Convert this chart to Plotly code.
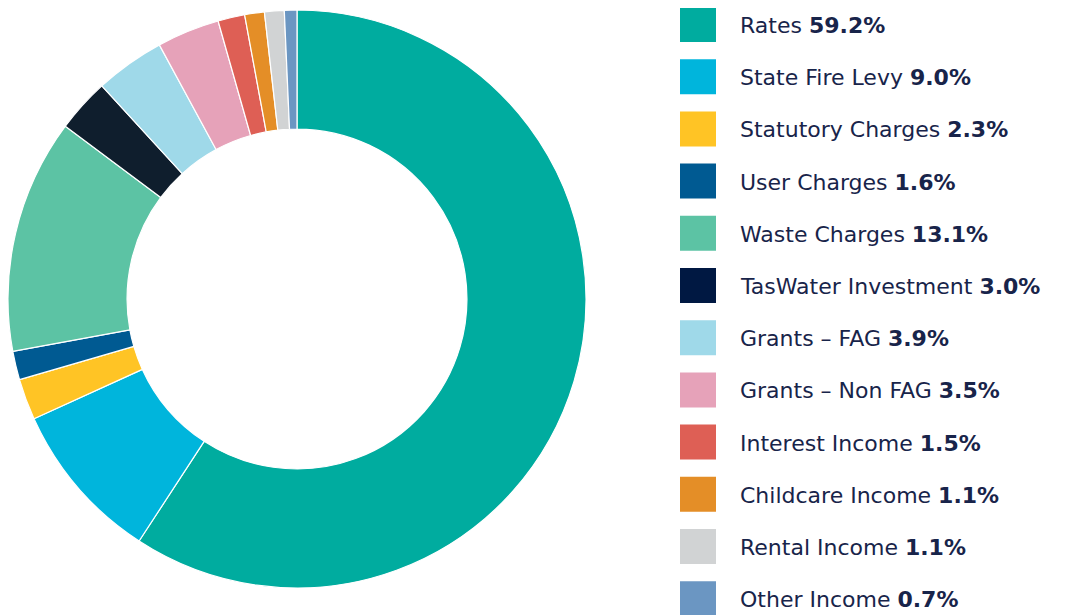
import plotly.graph_objects as go

# ---- data ----
categories = ["Rates", "State Fire Levy", "Statutory Charges", "User Charges",
              "Waste Charges", "TasWater Investment", "Grants \u2013 FAG",
              "Grants \u2013 Non FAG", "Interest Income", "Childcare Income",
              "Rental Income", "Other Income"]
shares = [59.2, 9.0, 2.3, 1.6, 13.1, 3.0, 3.9, 3.5, 1.5, 1.1, 1.1, 0.7]

# ---- style ----
slice_colors = ["#00ac9f", "#00b5dc", "#ffc425", "#005a92", "#5cc3a4", "#0f1e2d",
                "#9fd9e9", "#e6a2b9", "#de5f55", "#e48e27", "#d1d3d4", "#6b96c2"]
legend_colors = list(slice_colors)
legend_colors[5] = "#001842"
text_color = "#18244a"
W, H = 1066, 615
OFF = 8  # page body margin offset

def px(x):
    return min(max((x - OFF) / W, 0.0), 1.0)

def py(y):
    return min(max(1 - (y - OFF) / H, 0.0), 1.0)

fig = go.Figure()
fig.add_trace(go.Pie(
    labels=categories, values=shares, sort=False, direction="clockwise",
    rotation=0, hole=0.588,
    marker=dict(colors=slice_colors, line=dict(color="white", width=1.2)),
    textinfo="none", hoverinfo="label+percent", showlegend=False,
    domain=dict(x=[px(8), px(586)], y=[py(588), py(10)]),
))

shapes = []
annotations = []
y0, step = 24.5, 52.2
for i, (cat, val, col) in enumerate(zip(categories, shares, legend_colors)):
    cy = y0 + step * i
    shapes.append(dict(type="rect", xref="paper", yref="paper",
                       x0=px(680), x1=px(716),
                       y0=py(cy + 17.5), y1=py(cy - 17.5),
                       fillcolor=col, line=dict(width=0)))
    annotations.append(dict(xref="paper", yref="paper", x=px(738), y=py(cy + 1),
                            xanchor="left", yanchor="middle", showarrow=False,
                            text=f"{cat} <b>{val:.1f}%</b>",
                            font=dict(family="DejaVu Sans", size=22, color=text_color)))

fig.update_layout(
    width=W, height=H, margin=dict(l=0, r=0, t=0, b=0),
    paper_bgcolor="white", plot_bgcolor="white",
    shapes=shapes, annotations=annotations,
)
fig.write_html("out.html")
